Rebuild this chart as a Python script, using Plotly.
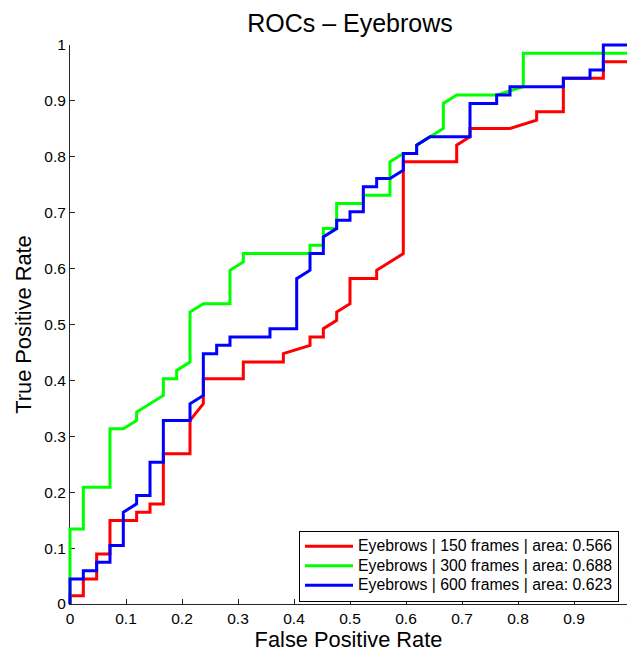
import plotly.graph_objects as go

# ---- data ----
fpr_150 = [0, 0, 0.0238, 0.0238, 0.0476, 0.0476, 0.0714, 0.0714, 0.119, 0.119, 0.1429, 0.1429,
           0.1667, 0.1667, 0.2143, 0.2143, 0.2381, 0.2381, 0.3095, 0.3095, 0.381, 0.381, 0.4286,
           0.4286, 0.4524, 0.4524, 0.4762, 0.4762, 0.5, 0.5, 0.5476, 0.5476, 0.5952, 0.5952, 0.6905,
           0.6905, 0.7143, 0.7143, 0.7857, 0.8333, 0.8333, 0.881, 0.881, 0.9524, 0.9524, 1, 1]
tpr_150 = [0, 0.0149, 0.0149, 0.0448, 0.0448, 0.0896, 0.0896, 0.1493, 0.1493, 0.1642, 0.1642, 0.1791,
           0.1791, 0.2687, 0.2687, 0.3284, 0.3582, 0.403, 0.403, 0.4328, 0.4328, 0.4478, 0.4627,
           0.4776, 0.4776, 0.4925, 0.5075, 0.5224, 0.5373, 0.5821, 0.5821, 0.597, 0.6269, 0.791, 0.791,
           0.8209, 0.8358, 0.8507, 0.8507, 0.8657, 0.8806, 0.8806, 0.9403, 0.9403, 0.9701, 0.9701, 1]

fpr_300 = [0, 0, 0.0238, 0.0238, 0.0714, 0.0714, 0.0952, 0.119, 0.119, 0.1667, 0.1667, 0.1905,
           0.1905, 0.2143, 0.2143, 0.2381, 0.2857, 0.2857, 0.3095, 0.3095, 0.4286, 0.4286, 0.4524,
           0.4524, 0.4762, 0.4762, 0.5238, 0.5238, 0.5714, 0.5714, 0.5952, 0.619, 0.619, 0.6429,
           0.6667, 0.6667, 0.6905, 0.7619, 0.8095, 0.8095, 1, 1]
tpr_300 = [0, 0.1343, 0.1343, 0.209, 0.209, 0.3134, 0.3134, 0.3284, 0.3433, 0.3731, 0.403, 0.403,
           0.4179, 0.4328, 0.5224, 0.5373, 0.5373, 0.597, 0.6119, 0.6269, 0.6269, 0.6418, 0.6418,
           0.6716, 0.6716, 0.7164, 0.7164, 0.7313, 0.7313, 0.791, 0.806, 0.806, 0.8209, 0.8358,
           0.8507, 0.8955, 0.9104, 0.9104, 0.9254, 0.9851, 0.9851, 1]

fpr_600 = [0, 0, 0.0238, 0.0238, 0.0476, 0.0476, 0.0714, 0.0714, 0.0952, 0.0952, 0.119, 0.119,
           0.1429, 0.1429, 0.1667, 0.1667, 0.2143, 0.2143, 0.2381, 0.2381, 0.2619, 0.2619, 0.2857,
           0.2857, 0.3571, 0.3571, 0.4048, 0.4048, 0.4286, 0.4286, 0.4524, 0.4524, 0.4762, 0.4762,
           0.5, 0.5, 0.5238, 0.5238, 0.5476, 0.5476, 0.5714, 0.5952, 0.5952, 0.619, 0.619, 0.6429,
           0.7143, 0.7143, 0.7619, 0.7619, 0.7857, 0.7857, 0.881, 0.881, 0.9286, 0.9286, 0.9524,
           0.9524, 1]
tpr_600 = [0, 0.0448, 0.0448, 0.0597, 0.0597, 0.0746, 0.0746, 0.1045, 0.1045, 0.1642, 0.1791, 0.194,
           0.194, 0.2537, 0.2537, 0.3284, 0.3284, 0.3582, 0.3731, 0.4478, 0.4478, 0.4627, 0.4627,
           0.4776, 0.4776, 0.4925, 0.4925, 0.5821, 0.597, 0.6269, 0.6269, 0.6567, 0.6716, 0.6866,
           0.6866, 0.7015, 0.7015, 0.7463, 0.7463, 0.7612, 0.7612, 0.7761, 0.806, 0.806, 0.8209,
           0.8358, 0.8358, 0.8955, 0.8955, 0.9104, 0.9104, 0.9254, 0.9254, 0.9403, 0.9403, 0.9552,
           0.9552, 1, 1]

series_names = ["Eyebrows | 150 frames | area: 0.566",
                "Eyebrows | 300 frames | area: 0.688",
                "Eyebrows | 600 frames | area: 0.623"]
series_colors = ["#FF0000", "#00FF00", "#0000FF"]

x_ticks = [0, 0.1, 0.2, 0.3, 0.4, 0.5, 0.6, 0.7, 0.8, 0.9]
x_tick_text = ["0", "0.1", "0.2", "0.3", "0.4", "0.5", "0.6", "0.7", "0.8", "0.9"]
y_ticks = [0, 0.1, 0.2, 0.3, 0.4, 0.5, 0.6, 0.7, 0.8, 0.9, 1]
y_tick_text = ["0", "0.1", "0.2", "0.3", "0.4", "0.5", "0.6", "0.7", "0.8", "0.9", "1"]

FONT = "Liberation Sans, Arial, Helvetica, sans-serif"
AX = "#262626"
LEG_SIZE = 15.8

fig = go.Figure()
# empty trace so the decoration axes (x, y) exist; drawn first, beneath the curves
fig.add_trace(go.Scatter(x=[], y=[], xaxis="x", yaxis="y", showlegend=False, hoverinfo="skip"))
for xs, ys, nm, col in zip([fpr_150, fpr_300, fpr_600], [tpr_150, tpr_300, tpr_600],
                           series_names, series_colors):
    fig.add_trace(go.Scatter(x=xs, y=ys, mode="lines",
                             name='<span style="font-size:%spx">%s</span>' % (LEG_SIZE, nm),
                             line=dict(color=col, width=3), xaxis="x2", yaxis="y2"))

W, H = 627, 652
L, T, B = 68, 43, 46
pw = W - L            # 559
ph = H - T - B        # 563

fig.update_layout(
    width=W, height=H,
    margin=dict(l=L, r=0, t=T, b=B, pad=0),
    paper_bgcolor="white", plot_bgcolor="rgba(0,0,0,0)",
    font=dict(family=FONT, color="black"),
    showlegend=True,
    title=dict(text="ROCs \u2013 Eyebrows", font=dict(size=25, family=FONT, color="black"),
               x=(350 - L) / pw, xref="paper", xanchor="center",
               y=1 - 22.8 / H, yref="container", yanchor="middle"),
    # decoration axes (exact MATLAB-like box position)
    xaxis=dict(domain=[2 / pw, 1], anchor="y", range=[0, 557 / 560],
               showline=True, linecolor=AX, linewidth=1, mirror=False,
               ticks="inside", ticklen=5, tickwidth=1, tickcolor=AX,
               tickvals=x_ticks, ticktext=x_tick_text,
               tickfont=dict(size=15.5, family=FONT, color="black"),
               showgrid=False, zeroline=False, automargin=False, fixedrange=True,
               title=dict(text="False Positive Rate", font=dict(size=21.8, family=FONT, color="black"),
                          standoff=4)),
    yaxis=dict(domain=[2 / ph, 1 - 2 / ph], anchor="x", range=[0, 1],
               showline=True, linecolor=AX, linewidth=1, mirror=False,
               ticks="inside", ticklen=5, tickwidth=1, tickcolor=AX,
               tickvals=y_ticks, ticktext=y_tick_text,
               tickfont=dict(size=15.5, family=FONT, color="black"),
               showgrid=False, zeroline=False, automargin=False, fixedrange=True,
               title=dict(text="True Positive Rate", font=dict(size=21.8, family=FONT, color="black"),
                          standoff=6)),
    # data axes: same scale, padded by 2 px so lines at 0 and 1 are not clipped
    xaxis2=dict(domain=[0, 1], anchor="y2", range=[-2 / 560, 557 / 560], visible=False, fixedrange=True),
    yaxis2=dict(domain=[0, 1], anchor="x2", range=[-2 / 559, 1 + 2 / 559], visible=False, fixedrange=True),
    legend=dict(x=(619 - L) / pw, xanchor="right", y=(H - B - 601.5) / ph, yanchor="bottom",
                bgcolor="white", bordercolor="black", borderwidth=1,
                font=dict(size=12.7, family=FONT, color="black"),
                itemwidth=48, tracegroupgap=0, itemclick=False, itemdoubleclick=False),
    annotations=[dict(text="1", xref="paper", yref="paper", x=(630 - L) / pw, y=-(608 - (H - B)) / ph,
                      xanchor="center", yanchor="top", showarrow=False,
                      font=dict(size=15.5, family=FONT, color="black"))],
)

fig.write_html("out.html")
